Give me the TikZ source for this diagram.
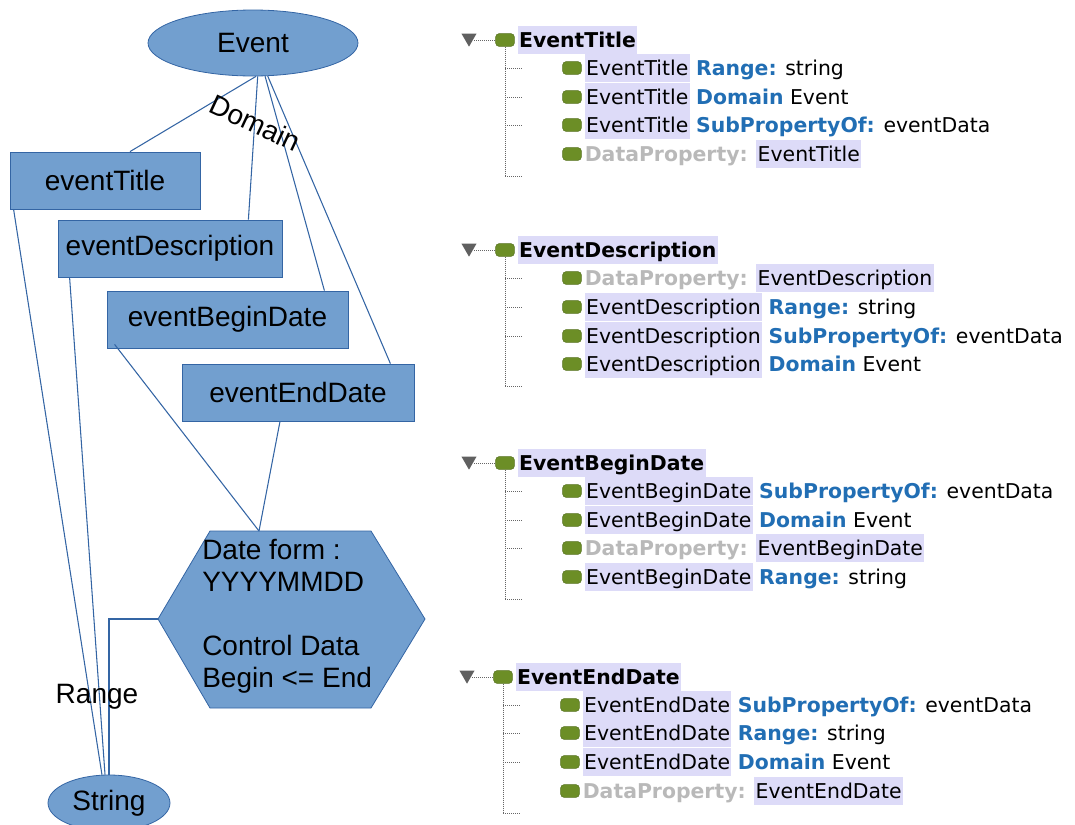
\documentclass[tikz,border=0pt]{standalone}
\usepackage{fontspec}
\setmainfont{Liberation Sans}
\newfontfamily\treefont{DejaVu Sans}
\usetikzlibrary{shapes.geometric, positioning, calc}
\definecolor{shapeblue}{RGB}{114,159,207}
\definecolor{edgeblue}{RGB}{52,101,164}
\definecolor{kwblue}{RGB}{33,110,180}
\definecolor{kwgray}{RGB}{185,185,185}
\definecolor{hlcol}{RGB}{221,219,248}
\definecolor{icongreen}{RGB}{108,142,38}
\newcommand{\hlname}[1]{\begingroup\setlength{\fboxsep}{0pt}\colorbox{hlcol}{\rule[-5.5pt]{0pt}{21.5pt}\kern1pt#1\kern1pt}\endgroup}
\newcommand{\kw}[1]{{\bfseries\color{kwblue}#1}}
\newcommand{\kwdp}[1]{{\bfseries\color{kwgray}#1}}
\tikzset{
  clsnode/.style={ellipse, fill=shapeblue, draw=edgeblue, line width=0.6pt, inner sep=0pt, font=\fontsize{21}{24}\selectfont},
  propbox/.style={rectangle, fill=shapeblue, draw=edgeblue, line width=0.6pt, minimum height=42.75pt, inner sep=0pt, font=\fontsize{21}{24}\selectfont},
  conn/.style={edgeblue, line width=0.8pt},
  lbl/.style={inner sep=0pt, font=\fontsize{21}{24}\selectfont},
  tri/.style={regular polygon, regular polygon sides=3, shape border rotate=180, fill=gray!75!black, inner sep=0pt, minimum size=13pt},
  propicon/.style={rectangle, rounded corners=2.5pt, fill=icongreen, draw=icongreen!80!black, line width=0.4pt, minimum width=14pt, minimum height=9.5pt, inner sep=0pt},
  rowtext/.style={inner sep=0pt, font=\treefont\fontsize{15.3}{18}\selectfont},
  treeline/.style={gray!80!black, line width=0.6pt, dash pattern=on 0.75pt off 0.75pt},
}

\begin{document}
\begin{tikzpicture}[x=0.75pt, y=-0.75pt]
    \useasboundingbox (0,0) rectangle (1075,825);

    % ontology sketch
    \node[clsnode, minimum width=157.5pt, minimum height=49.5pt] (event) at (253,43) {Event};
    \node[propbox, minimum width=142.5pt] (title) at (105,180.5) {eventTitle};
    \node[propbox, minimum width=168pt] (desc) at (170,248.5) {eventDescription};
    \node[propbox, minimum width=180.75pt] (begin) at (227.5,319.5) {eventBeginDate};
    \node[propbox, minimum width=174pt] (end) at (298,392.5) {eventEndDate};
    \node[clsnode, minimum width=91.5pt, minimum height=42pt] (string) at (109,803) {String};

    % hexagon with the date rule
    \draw[fill=shapeblue, draw=edgeblue, line width=0.6pt]
        (158,619) -- (210,531) -- (371,531) -- (425,619) -- (371,708) -- (210,708) -- cycle;
    \coordinate (hextop) at (259,531);
    \coordinate (hexleft) at (158,619);
    \node[lbl, anchor=west, align=left] (dateform) at (202,616.5)
        {Date form :\\YYYYMMDD\\[24pt]Control Data\\Begin <= End};

    % domain links
    \draw[conn] (event.-85) -- ($(title.north)+(25,0)$);
    \draw[conn] (event.-82) -- ($(desc.north east)+(-34,0)$);
    \draw[conn] (event.-70) -- ($(begin.north east)+(-24,0)$);
    \draw[conn] (event.-66) -- ($(end.north east)+(-24,0)$);
    \node[lbl, rotate=-25] (domain) at (255,123) {Domain};

    % range links
    \draw[conn] ($(title.south west)+(4,0)$) -- (string.104);
    \draw[conn] ($(desc.south west)+(12,0)$) -- (string.98);
    \draw[conn] (hexleft) -| (string.north);
    \node[lbl] (range) at (97,697) {Range};

    % date boxes to the rule
    \draw[conn] ($(begin.south west)+(8,-4)$) -- (hextop);
    \draw[conn] ($(end.south)+(-18,0)$) -- (hextop);

    % tree 1
    \node[tri] (tr1) at (469,38) {};
    \node[propicon] (hi1) at (505,40) {};
    \node[rowtext, right=2.2pt of hi1] (h1) {\hlname{\bfseries EventTitle}};
    \draw[treeline] (tr1.east |- hi1) -- (hi1.west);
    \node[propicon] (c11) at (572,68) {};
    \node[rowtext, right=2.2pt of c11] (r11) {\hlname{EventTitle} \kw{Range:} string};
    \node[propicon] (c12) at (572,97) {};
    \node[rowtext, right=2.2pt of c12] (r12) {\hlname{EventTitle} \kw{Domain} Event};
    \node[propicon] (c13) at (572,125) {};
    \node[rowtext, right=2.2pt of c13] (r13) {\hlname{EventTitle} \kw{SubPropertyOf:} eventData};
    \node[propicon] (c14) at (572,154) {};
    \node[rowtext, right=2.2pt of c14] (r14) {\kwdp{DataProperty:} \hlname{EventTitle}};
    \draw[treeline] (hi1.south) -- ++(0,130) -- ++(17,0);
    \draw[treeline] (hi1.south |- c11) -- +(17,0);
    \draw[treeline] (hi1.south |- c12) -- +(17,0);
    \draw[treeline] (hi1.south |- c13) -- +(17,0);

    % tree 2
    \node[tri] (tr2) at (469,248) {};
    \node[propicon] (hi2) at (505,250) {};
    \node[rowtext, right=2.2pt of hi2] (h2) {\hlname{\bfseries EventDescription}};
    \draw[treeline] (tr2.east |- hi2) -- (hi2.west);
    \node[propicon] (c21) at (572,278) {};
    \node[rowtext, right=2.2pt of c21] (r21) {\kwdp{DataProperty:} \hlname{EventDescription}};
    \node[propicon] (c22) at (572,307) {};
    \node[rowtext, right=2.2pt of c22] (r22) {\hlname{EventDescription} \kw{Range:} string};
    \node[propicon] (c23) at (572,336) {};
    \node[rowtext, right=2.2pt of c23] (r23) {\hlname{EventDescription} \kw{SubPropertyOf:} eventData};
    \node[propicon] (c24) at (572,364) {};
    \node[rowtext, right=2.2pt of c24] (r24) {\hlname{EventDescription} \kw{Domain} Event};
    \draw[treeline] (hi2.south) -- ++(0,130) -- ++(17,0);
    \draw[treeline] (hi2.south |- c21) -- +(17,0);
    \draw[treeline] (hi2.south |- c22) -- +(17,0);
    \draw[treeline] (hi2.south |- c23) -- +(17,0);

    % tree 3
    \node[tri] (tr3) at (469,461) {};
    \node[propicon] (hi3) at (505,463) {};
    \node[rowtext, right=2.2pt of hi3] (h3) {\hlname{\bfseries EventBeginDate}};
    \draw[treeline] (tr3.east |- hi3) -- (hi3.west);
    \node[propicon] (c31) at (572,491) {};
    \node[rowtext, right=2.2pt of c31] (r31) {\hlname{EventBeginDate} \kw{SubPropertyOf:} eventData};
    \node[propicon] (c32) at (572,520) {};
    \node[rowtext, right=2.2pt of c32] (r32) {\hlname{EventBeginDate} \kw{Domain} Event};
    \node[propicon] (c33) at (572,548) {};
    \node[rowtext, right=2.2pt of c33] (r33) {\kwdp{DataProperty:} \hlname{EventBeginDate}};
    \node[propicon] (c34) at (572,577) {};
    \node[rowtext, right=2.2pt of c34] (r34) {\hlname{EventBeginDate} \kw{Range:} string};
    \draw[treeline] (hi3.south) -- ++(0,130) -- ++(17,0);
    \draw[treeline] (hi3.south |- c31) -- +(17,0);
    \draw[treeline] (hi3.south |- c32) -- +(17,0);
    \draw[treeline] (hi3.south |- c33) -- +(17,0);

    % tree 4
    \node[tri] (tr4) at (467,675) {};
    \node[propicon] (hi4) at (503,677) {};
    \node[rowtext, right=2.2pt of hi4] (h4) {\hlname{\bfseries EventEndDate}};
    \draw[treeline] (tr4.east |- hi4) -- (hi4.west);
    \node[propicon] (c41) at (570,705) {};
    \node[rowtext, right=2.2pt of c41] (r41) {\hlname{EventEndDate} \kw{SubPropertyOf:} eventData};
    \node[propicon] (c42) at (570,733) {};
    \node[rowtext, right=2.2pt of c42] (r42) {\hlname{EventEndDate} \kw{Range:} string};
    \node[propicon] (c43) at (570,762) {};
    \node[rowtext, right=2.2pt of c43] (r43) {\hlname{EventEndDate} \kw{Domain} Event};
    \node[propicon] (c44) at (570,791) {};
    \node[rowtext, right=2.2pt of c44] (r44) {\kwdp{DataProperty:} \hlname{EventEndDate}};
    \draw[treeline] (hi4.south) -- ++(0,130) -- ++(17,0);
    \draw[treeline] (hi4.south |- c41) -- +(17,0);
    \draw[treeline] (hi4.south |- c42) -- +(17,0);
    \draw[treeline] (hi4.south |- c43) -- +(17,0);
\end{tikzpicture}
\end{document}
